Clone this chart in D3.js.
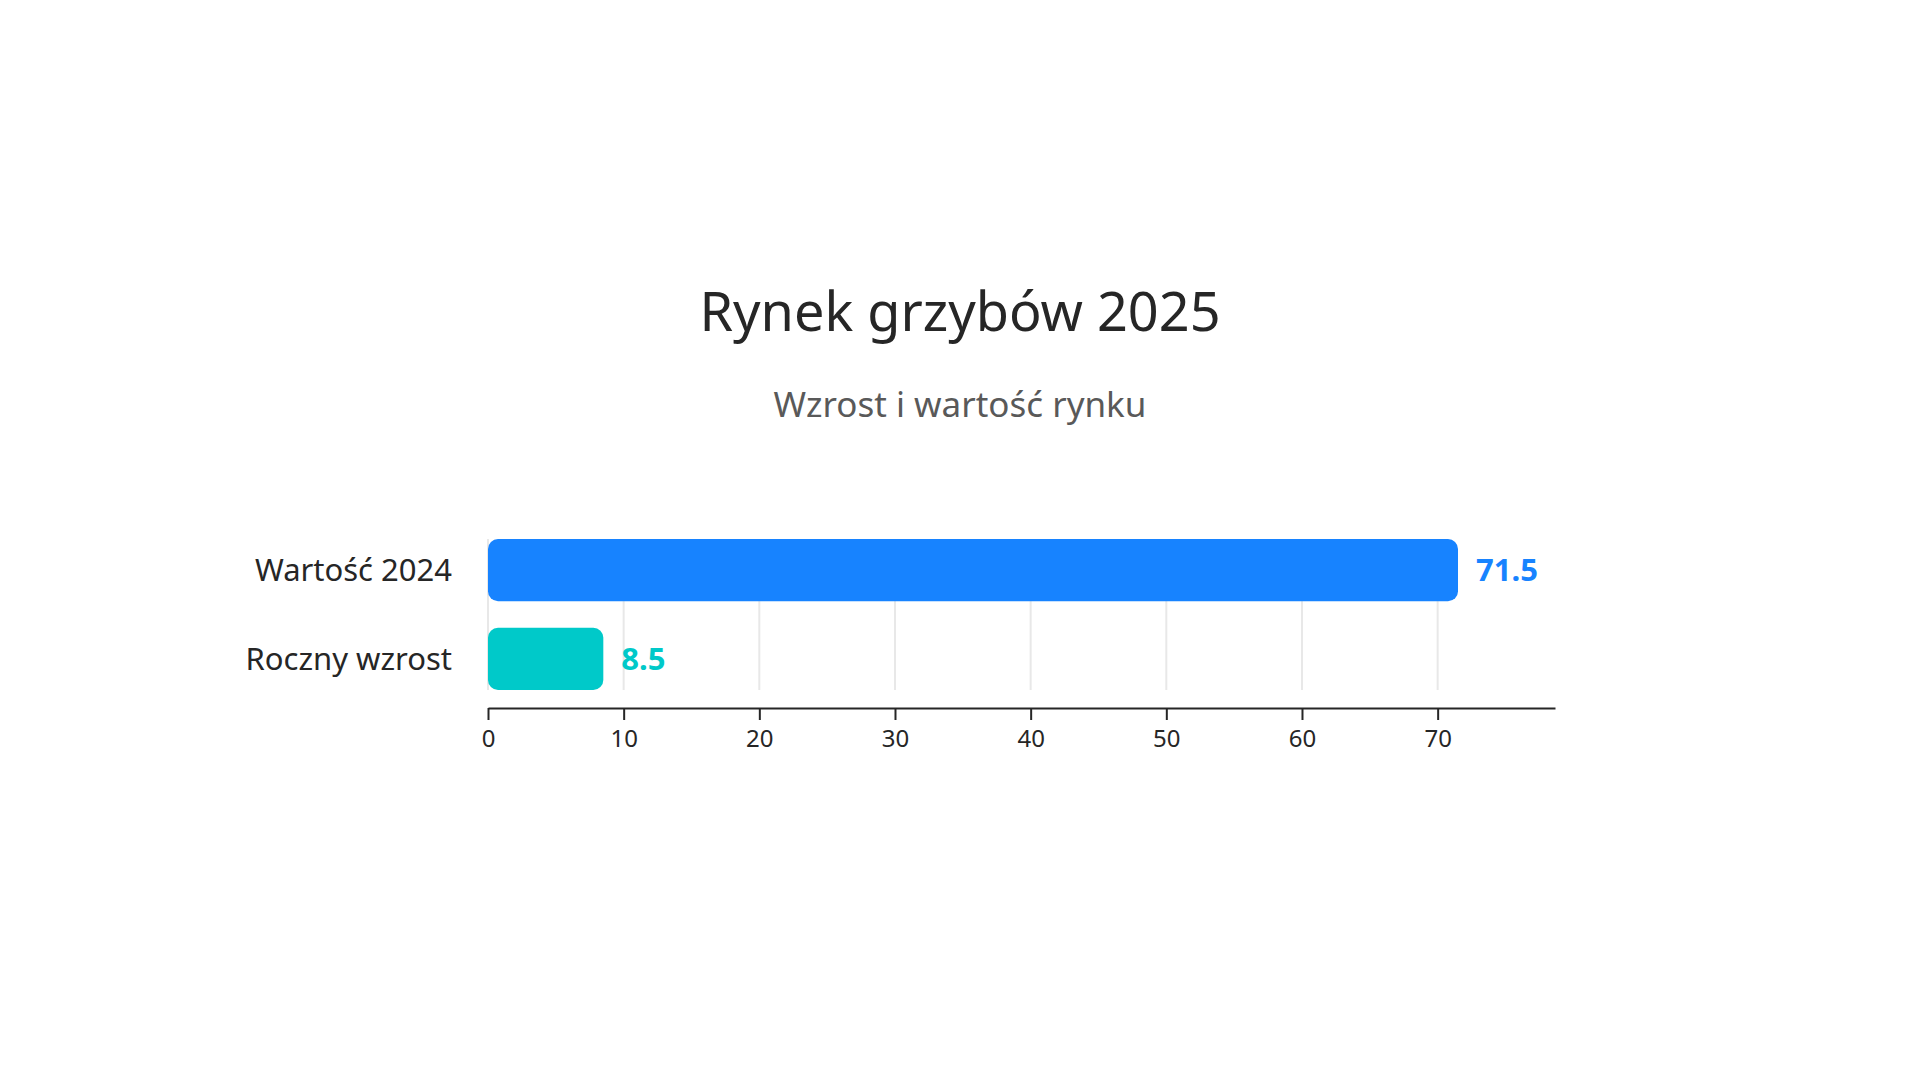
<!DOCTYPE html>
<html lang="pl">

<head>
    <meta charset="UTF-8" />
    <title>Rynek grzybów 2025</title>
    <script src="https://d3js.org/d3.v7.min.js"></script>
    <style>
        body {
            margin: 0;
            background: #fff;
            font-family: "Noto Sans", sans-serif;
        }

        svg {
            display: block;
        }

        .axis text {
            font-size: 24px;
            fill: #262626;
        }

        .axis path.domain,
        .axis .tick line {
            stroke: #262626;
            stroke-width: 2px;
        }
    </style>
</head>

<body>
    <svg id="chart" width="1920" height="1080"></svg>

    <script>
        // dane
        const categories = ["Wartość 2024", "Roczny wzrost"];
        const values = [71.5, 8.5];
        const colors = ["#1783FF", "#00C9C9"];
        const tickValues = [0, 10, 20, 30, 40, 50, 60, 70];

        const svg = d3.select("#chart");
        const width = +svg.attr("width");

        const marginLeft = 488;
        const marginRight = 365;
        const plotTop = 539;
        const plotBottom = 690;
        const axisY = 708;

        const x = d3.scaleLinear()
            .domain([0, d3.max(values) * 1.1])
            .range([marginLeft, width - marginRight]);

        const y = d3.scaleBand()
            .domain(categories)
            .range([plotTop, plotBottom])
            .paddingInner(0.3)
            .paddingOuter(0);

        // tytuł i podtytuł
        svg.append("text")
            .attr("x", width / 2)
            .attr("y", 331)
            .attr("text-anchor", "middle")
            .attr("font-size", 54)
            .attr("fill", "#262626")
            .text("Rynek grzybów 2025");

        svg.append("text")
            .attr("x", width / 2)
            .attr("y", 417)
            .attr("text-anchor", "middle")
            .attr("font-size", 35)
            .attr("fill", "#595959")
            .text("Wzrost i wartość rynku");

        // siatka
        svg.append("g")
            .selectAll("line")
            .data(tickValues)
            .join("line")
            .attr("x1", d => x(d))
            .attr("x2", d => x(d))
            .attr("y1", plotTop)
            .attr("y2", plotBottom)
            .attr("stroke", "#e8e8e8")
            .attr("stroke-width", 2);

        // słupki
        svg.append("g")
            .selectAll("rect")
            .data(categories)
            .join("rect")
            .attr("x", x(0))
            .attr("y", d => y(d))
            .attr("width", (d, i) => x(values[i]) - x(0))
            .attr("height", y.bandwidth())
            .attr("rx", 10)
            .attr("ry", 10)
            .attr("fill", (d, i) => colors[i]);

        // etykiety wartości
        svg.append("g")
            .selectAll("text")
            .data(categories)
            .join("text")
            .attr("x", (d, i) => x(values[i]) + 18)
            .attr("y", d => y(d) + y.bandwidth() / 2)
            .attr("dy", "0.36em")
            .attr("font-size", 31)
            .attr("font-weight", "bold")
            .attr("fill", (d, i) => colors[i])
            .text((d, i) => values[i]);

        // etykiety kategorii
        svg.append("g")
            .selectAll("text")
            .data(categories)
            .join("text")
            .attr("x", 452)
            .attr("y", d => y(d) + y.bandwidth() / 2)
            .attr("dy", "0.36em")
            .attr("text-anchor", "end")
            .attr("font-size", 31)
            .attr("fill", "#262626")
            .text(d => d);

        // oś X
        const axis = d3.axisBottom(x)
            .tickValues(tickValues)
            .tickFormat(d3.format("d"))
            .tickSizeInner(12)
            .tickSizeOuter(0)
            .tickPadding(10);

        svg.append("g")
            .attr("class", "axis")
            .attr("transform", `translate(0, ${axisY})`)
            .call(axis)
            .attr("font-family", null)
            .attr("font-size", null);
    </script>
</body>

</html>
